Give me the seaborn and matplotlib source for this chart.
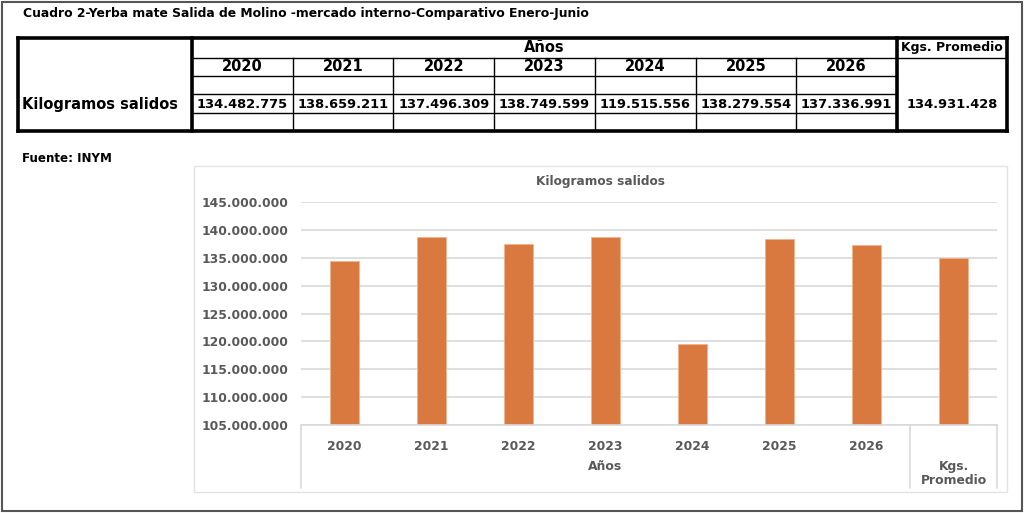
import matplotlib
matplotlib.use('Agg')
import matplotlib.pyplot as plt
import matplotlib.transforms as mtrans
from matplotlib.lines import Line2D
from matplotlib.patches import Rectangle
import pandas as pd
import seaborn as sns

# data
years = ['2020', '2021', '2022', '2023', '2024', '2025', '2026']
kilos = [134482775, 138659211, 137496309, 138749599, 119515556, 138279554, 137336991]
promedio = 134931428
promedio_label = 'Kgs. Promedio'
y_ticks = [105e6, 110e6, 115e6, 120e6, 125e6, 130e6, 135e6, 140e6, 145e6]

title = 'Cuadro 2-Yerba mate Salida de Molino -mercado interno-Comparativo Enero-Junio'
row_label = 'Kilogramos salidos'
fuente = 'Fuente: INYM'

BAR = '#d9793f'
GREY_TXT = '#595959'
GRID = '#d9d9d9'

W, H = 1024, 513


def fmt(v):
    return f'{int(v):,}'.replace(',', '.')


def fx(px):
    return px / W


def fy(py):
    return 1 - py / H


sns.set_theme(style='white')
plt.rcParams['font.family'] = ['DejaVu Sans']
plt.rcParams['font.weight'] = 'bold'

fig = plt.figure(figsize=(W / 100, H / 100), dpi=100)


def hline(x0, x1, y, lw=1.0, color='black'):
    fig.add_artist(Line2D([fx(x0), fx(x1)], [fy(y), fy(y)], lw=lw, color=color,
                          transform=fig.transFigure, solid_capstyle='projecting'))


def vline(x, y0, y1, lw=1.0, color='black'):
    fig.add_artist(Line2D([fx(x), fx(x)], [fy(y0), fy(y1)], lw=lw, color=color,
                          transform=fig.transFigure, solid_capstyle='projecting'))


def txt(x, y, s, size, ha='center', color='black'):
    fig.text(fx(x), fy(y), s, fontsize=size, ha=ha, va='center',
             color=color, fontweight='bold')


# outer frame
fig.add_artist(Rectangle((fx(1.5), fy(511)), fx(1020), 509 / H, fill=False,
                         lw=1.5, edgecolor='#555555', transform=fig.transFigure))

txt(23, 13, title, 8.95, ha='left')

# ---- table ----
tx0, tx1 = 18, 1007
ty0, ty1 = 38, 131
col_left = 192
col_prom = 897
col_w = (col_prom - col_left) / len(years)
row_y = [38, 58, 76, 94, 113, 131]

# thin inner lines
hline(col_left, col_prom, row_y[1])
hline(col_prom, tx1, row_y[1])
for r in row_y[2:5]:
    hline(col_left, col_prom, r)
for i in range(1, len(years)):
    xx = col_left + i * col_w
    vline(xx, row_y[1], ty1)

# thick borders
thick = 2.6
hline(tx0, tx1, ty0, thick)
hline(tx0, tx1, ty1, thick)
vline(tx0, ty0, ty1, thick)
vline(tx1, ty0, ty1, thick)
vline(col_left, ty0, ty1, thick)
vline(col_prom, ty0, ty1, thick)

txt((col_left + col_prom) / 2, 48, 'Años', 10.5)
txt((col_prom + tx1) / 2, 48, promedio_label, 9.0)
for i, (yr, v) in enumerate(zip(years, kilos)):
    cx = col_left + (i + 0.5) * col_w
    txt(cx, 67, yr, 10.5)
    txt(cx, 104, fmt(v), 9.4)
txt(22, 104, row_label, 10.5, ha='left')
txt((col_prom + tx1) / 2, 104, fmt(promedio), 9.4)

txt(22, 158, fuente, 8.6, ha='left')

# ---- chart ----
fig.add_artist(Rectangle((fx(194), fy(492)), (1007 - 194) / W, (492 - 166) / H,
                         fill=False, lw=1.0, edgecolor='#e3e3e3',
                         transform=fig.transFigure))
txt(601, 182, row_label, 8.7, color=GREY_TXT)

ax_l, ax_r, ax_t, ax_b = 301, 997, 202, 425
ax = fig.add_axes([fx(ax_l), fy(ax_b), (ax_r - ax_l) / W, (ax_b - ax_t) / H])

df = pd.DataFrame({'cat': years + [promedio_label], 'kg': kilos + [promedio]})
sns.barplot(data=df, x='cat', y='kg', color=BAR, saturation=1, width=0.33,
            edgecolor='#f0b48c', linewidth=0.6, ax=ax)

ax.set_ylim(y_ticks[0], y_ticks[-1])
ax.set_xlim(-0.5, len(df) - 0.5)
ax.set_yticks(y_ticks)
ax.set_yticklabels([fmt(t) for t in y_ticks])
ax.yaxis.grid(True, color=GRID, lw=1.2)
ax.set_axisbelow(True)
for sp in ['top', 'right', 'left']:
    ax.spines[sp].set_visible(False)
ax.spines['bottom'].set_color(GRID)
ax.spines['bottom'].set_linewidth(1.2)
ax.set_xticks(range(len(df)))
ax.set_xticklabels(years + [''])
ax.tick_params(axis='both', length=0, colors=GREY_TXT, labelsize=8.9)
ax.tick_params(axis='x', pad=11)
ax.tick_params(axis='y', pad=9.4)
for lab in ax.get_xticklabels() + ax.get_yticklabels():
    lab.set_fontweight('bold')
ax.set_xlabel('')
ax.set_ylabel('')

# multi-level category axis
blend = mtrans.blended_transform_factory(ax.transData, ax.transAxes)
low = -(488 - ax_b) / (ax_b - ax_t)
for xv in [-0.5, len(years) - 0.5, len(df) - 0.5]:
    ax.add_line(Line2D([xv, xv], [0, low], transform=blend, color=GRID,
                       lw=1.2, clip_on=False))
grp_y = -(466 - ax_b) / (ax_b - ax_t)
ax.text((len(years) - 1) / 2, grp_y, 'Años', transform=blend, ha='center',
        va='center', fontsize=8.9, color=GREY_TXT, fontweight='bold')
ax.text(len(years), -(473.5 - ax_b) / (ax_b - ax_t), 'Kgs.\nPromedio',
        transform=blend, ha='center', va='center', fontsize=8.9,
        color=GREY_TXT, fontweight='bold', linespacing=1.05)

fig.savefig('out.png', dpi=100, facecolor='white')
